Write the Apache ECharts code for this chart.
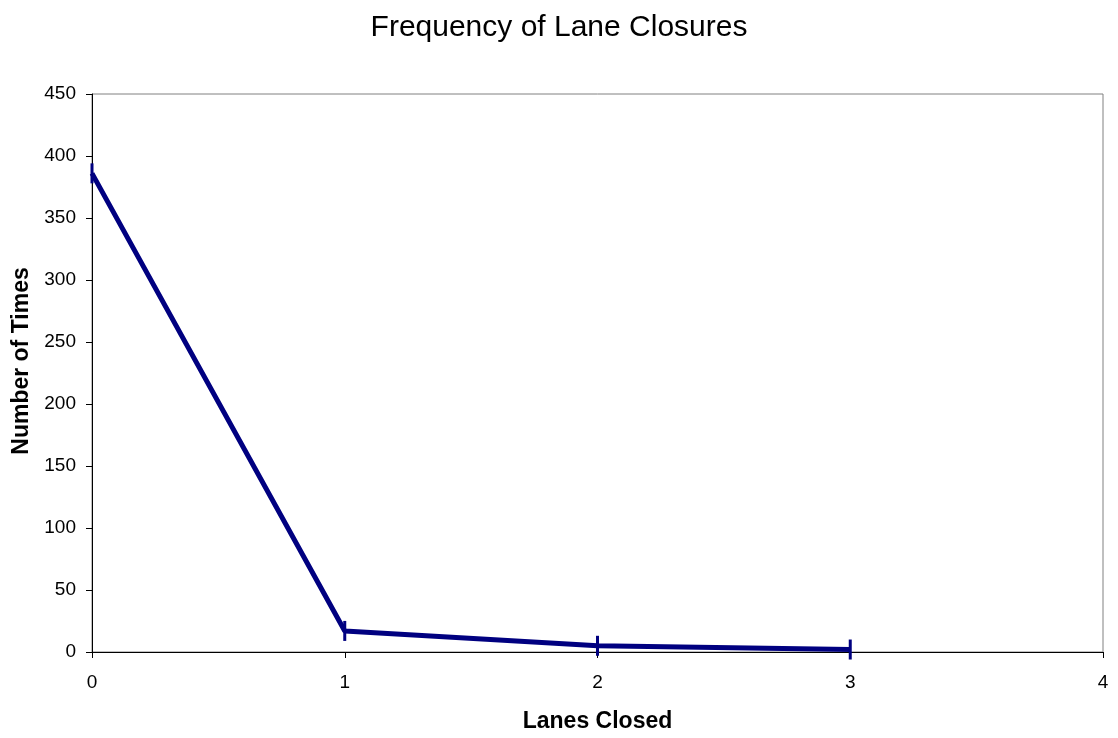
<!DOCTYPE html>
<html><head><meta charset="utf-8">
<script src="https://cdn.jsdelivr.net/npm/echarts@6/dist/echarts.min.js"></script>
<style>html,body{margin:0;padding:0;background:#fff}#c{width:1118px;height:738px}</style>
</head><body><div id="c"></div>
<script>
const lanesClosed = [0, 1, 2, 3];
const numberOfTimes = [386, 17, 5, 2];
const xTicks = [0, 1, 2, 3, 4];
const yTicks = [0, 50, 100, 150, 200, 250, 300, 350, 400, 450];

const chart = echarts.init(document.getElementById('c'));
const font = '"Liberation Sans", Arial, sans-serif';
chart.setOption({
  animation: false,
  title: {
    text: 'Frequency of Lane Closures', left: 'center', top: 8,
    textStyle: {fontFamily: font, fontSize: 30, fontWeight: 'normal', color: '#000'}
  },
  grid: {left: 92, top: 94, right: 15, bottom: 81, show: true, borderColor: '#808080', borderWidth: 1},
  xAxis: {
    type: 'value', min: xTicks[0], max: xTicks[xTicks.length - 1], interval: 1,
    name: 'Lanes Closed', nameLocation: 'middle', nameGap: 58,
    nameTextStyle: {fontFamily: font, fontSize: 23, fontWeight: 'bold', color: '#000'},
    axisLine: {show: true, lineStyle: {color: '#000', width: 1}},
    axisTick: {show: true, length: 6, lineStyle: {color: '#000'}},
    axisLabel: {fontFamily: font, fontSize: 19, color: '#000', margin: 21},
    splitLine: {show: false}
  },
  yAxis: {
    type: 'value', min: yTicks[0], max: yTicks[yTicks.length - 1], interval: 50,
    name: 'Number of Times', nameLocation: 'middle', nameGap: 56,
    nameTextStyle: {fontFamily: font, fontSize: 23, fontWeight: 'bold', color: '#000', padding: [0, 0, 0, 24]},
    axisLine: {show: true, lineStyle: {color: '#000', width: 1}},
    axisTick: {show: true, length: 6, lineStyle: {color: '#000'}},
    axisLabel: {fontFamily: font, fontSize: 19, color: '#000', margin: 16},
    splitLine: {show: false}
  },
  series: [{
    type: 'line',
    data: lanesClosed.map((x, i) => [x, numberOfTimes[i]]),
    lineStyle: {color: '#000080', width: 5},
    itemStyle: {color: '#000080'},
    symbol: 'rect', symbolSize: [3, 20], showSymbol: true,
    clip: false
  }]
});
</script></body></html>
